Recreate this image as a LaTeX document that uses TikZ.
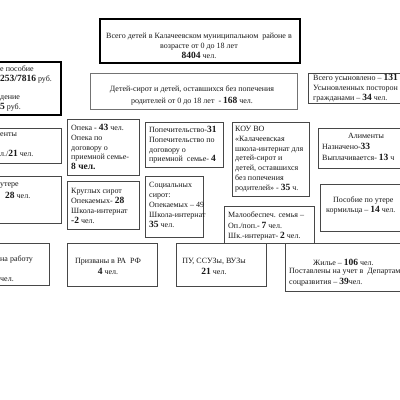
\documentclass[tikz,border=0pt]{standalone}
\usepackage{fontspec}
\setmainfont{Liberation Serif}
\newcommand\bn[1]{{\fontsize{9.5}{10}\selectfont\bfseries #1}}
\tikzset{
  thinbox/.style={draw=black!72, line width=0.9pt, inner sep=0pt, anchor=north west},
  lightbox/.style={draw=black!55, line width=0.9pt, inner sep=0pt, anchor=north west},
  thickbox/.style={draw=black, line width=1.8pt, inner sep=0pt, anchor=north west},
  txt/.style={font=\fontsize{8}{10}\selectfont, inner sep=0pt, align=left, text=black!90},
  ctxt/.style={txt, align=center},
}
\begin{document}
\begin{tikzpicture}[x=1pt,y=-1pt]
\useasboundingbox (0,0) rectangle (400,400);
% boxes
\node[thickbox, minimum width=200pt, minimum height=44pt] (all) at (99,18) {};
\node[lightbox, minimum width=207pt, minimum height=36pt] (orph) at (90,73) {};
\node[thinbox, minimum width=115pt, minimum height=30pt] (adopt) at (308,73) {};
\node[thickbox, minimum width=65pt, minimum height=53pt] (ben) at (-5,61) {};
\node[thinbox, minimum width=66pt, minimum height=35pt] (alimL) at (-5,128) {};
\node[thinbox, minimum width=66pt, minimum height=47pt] (lossL) at (-5,176) {};
\node[thinbox, minimum width=54pt, minimum height=42pt] (workL) at (-5,243) {};
\node[thinbox, minimum width=72pt, minimum height=56pt] (guard) at (67,119) {};
\node[thinbox, minimum width=78pt, minimum height=45pt] (trust) at (145,122) {};
\node[thinbox, minimum width=72pt, minimum height=48pt] (round) at (67,181) {};
\node[thinbox, minimum width=58pt, minimum height=61pt] (social) at (145,176) {};
\node[thinbox, minimum width=77pt, minimum height=74pt] (koy) at (232,122) {};
\node[thinbox, minimum width=90pt, minimum height=37pt] (poor) at (224,206) {};
\node[thinbox, minimum width=100pt, minimum height=40pt] (alimR) at (318,128) {};
\node[thinbox, minimum width=100pt, minimum height=47pt] (lossR) at (320,184) {};
\node[thinbox, minimum width=90pt, minimum height=43pt] (army) at (67,243) {};
\node[thinbox, minimum width=90pt, minimum height=43pt] (edu) at (176,243) {};
\node[thinbox, minimum width=135pt, minimum height=48pt] (house) at (285,243) {};
% texts
\node[ctxt] (allt) at (199,45.5) {Всего детей в Калачеевском муниципальном\ \ районе в\\возрасте от 0 до 18 лет\\\bn{8404} чел.};
\node[ctxt, font=\fontsize{8}{12}\selectfont] (orpht) at (192,95) {Детей-сирот и детей, оставшихся без попечения\\родителей от 0 до 18 лет\ \ - \bn{168} чел.};
\node[txt, anchor=west] (adoptt) at (313,88.5) {Всего усыновлено – \bn{131}\\Усыновленных посторон\\гражданами – \bn{34} чел.};
\node[txt, anchor=west, font=\fontsize{8}{9.3}\selectfont] (bent) at (0,88.5) {е пособие\\\bn{253/7816} руб.\\\mbox{}\\дение\\\bn{5} руб.};
\node[txt, anchor=west] (alimLa) at (0,135) {енты};
\node[txt, anchor=west] (alimLb) at (0,153) {л./\bn{21} чел.};
\node[txt, anchor=west] (lossLa) at (0,185) {утере};
\node[txt, anchor=west] (lossLb) at (5,195) {\bn{28} чел.};
\node[txt, anchor=west] (workLa) at (0,259) {на работу};
\node[txt, anchor=west] (workLb) at (0,280) {чел.};
\node[txt, anchor=west, font=\fontsize{8}{9.6}\selectfont] (guardt) at (71,147) {Опека - \bn{43} чел.\\Опека по\\договору о\\приемной семье-\\\bn{8 чел.}};
\node[txt, anchor=west, font=\fontsize{8}{9.6}\selectfont] (trustt) at (149,145) {Попечительство-\bn{31}\\Попечительство по\\договору о\\приемной\ \ семье- \bn{4}};
\node[txt, anchor=west] (roundt) at (71,206) {Круглых сирот\\Опекаемых- \bn{28}\\Школа-интернат\\\bn{-2} чел.};
\node[txt, anchor=west] (socialt) at (149,204.5) {Социальных\\сирот:\\Опекаемых – 49\\Школа-интернат\\\bn{35} чел.};
\node[txt, anchor=west, font=\fontsize{8}{9.8}\selectfont] (koyt) at (235,159) {КОУ ВО\\«Калачеевская\\школа-интернат для\\детей-сирот и\\детей, оставшихся\\без попечения\\родителей» - \bn{35} ч.};
\node[txt, anchor=west, font=\fontsize{8}{10.5}\selectfont] (poort) at (228,226) {Малообеспеч. семья –\\Оп./поп.\textbf{-} \bn{7} чел.\\Шк.-интернат- \bn{2} чел.};
\node[txt] (alimRa) at (366,136) {Алименты};
\node[txt, anchor=west] (alimRb) at (322,146.5) {Назначено-\bn{33}};
\node[txt, anchor=west] (alimRc) at (322,157) {Выплачивается- \bn{13} ч};
\node[txt, anchor=west] (lossRa) at (333,200) {Пособие по утере};
\node[txt, anchor=west] (lossRb) at (326,210.5) {кормильца – \bn{14} чел.};
\node[ctxt, font=\fontsize{8}{11}\selectfont] (armyt) at (108,266.5) {Призваны в РА\ \ РФ\\\bn{4} чел.};
\node[ctxt, font=\fontsize{8}{11}\selectfont] (edut) at (214,266.5) {ПУ, ССУЗы, ВУЗы\\\bn{21} чел.};
\node[txt, anchor=west] (housea) at (313,262) {Жилье – \bn{106} чел.};
\node[txt, anchor=west] (houseb) at (289,272) {Поставлены на учет в\ \ Департам};
\node[txt, anchor=west] (housec) at (289,282) {соцразвития – \bn{39}чел.};
\end{tikzpicture}
\end{document}
